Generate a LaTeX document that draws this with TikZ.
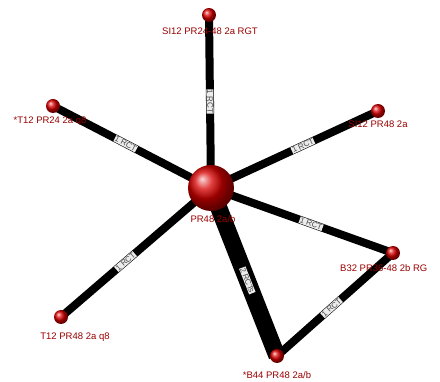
\documentclass[tikz,border=0pt]{standalone}
\usepackage{fontspec}
\setmainfont{Liberation Sans}
\begin{document}
\begin{tikzpicture}[x=1pt,y=-1pt,
  ball/.style={circle,shading=ball,ball color=red!85!black,inner sep=0pt},
  small/.style={ball,minimum size=14pt},
  big/.style={ball,minimum size=46pt},
  lab/.style={text=red!60!black,font=\fontsize{9.5}{10}\selectfont,inner sep=1pt},
  edge/.style={line width=8pt,black},
  thick edge/.style={line width=17pt,black},
  elab/.style={sloped,fill=gray!15,text=black!70,font=\fontsize{8}{8}\selectfont,inner sep=0.6pt}
]
\useasboundingbox (0,0) rectangle (440,382);
\coordinate (c) at (211,188);
\coordinate (n1) at (209,15);
\coordinate (n2) at (53,106);
\coordinate (n3) at (378,111);
\coordinate (n4) at (393,253);
\coordinate (n5) at (277,356);
\coordinate (n6) at (61,317);
\draw[edge] (c) -- node[elab,pos=0.5]{1 RCT} (n1);
\draw[edge] (c) -- node[elab,pos=0.54]{1 RCT} (n2);
\draw[edge] (c) -- node[elab,pos=0.55]{1 RCT} (n3);
\draw[edge] (c) -- node[elab,pos=0.55]{1 RCT} (n4);
\draw[edge] (c) -- node[elab,pos=0.57]{1 RCT} (n6);
\draw[edge] (n4) -- node[elab,pos=0.53]{1 RCT} (n5);
\draw[thick edge] (c) -- node[elab,pos=0.55]{2 RCTs} (n5);
\node[big] (C) at (c) {};
\node[small] (N1) at (n1) {};
\node[small] (N2) at (n2) {};
\node[small] (N3) at (n3) {};
\node[small] (N4) at (n4) {};
\node[small] (N5) at (n5) {};
\node[small] (N6) at (n6) {};
\node[lab] (L0) at (213,219) {PR48 2a/b};
\node[lab] (L1) at (210,31) {SI12 PR24-48 2a RGT};
\node[lab] (L2) at (50,121) {*T12 PR24 2a q8};
\node[lab] (L3) at (378,124) {SI12 PR48 2a};
\node[lab,anchor=west] (L4) at (339,268) {B32 PR36-48 2b RG};
\node[lab] (L5) at (277,375) {*B44 PR48 2a/b};
\node[lab] (L6) at (75,337) {T12 PR48 2a q8};
\end{tikzpicture}
\end{document}
